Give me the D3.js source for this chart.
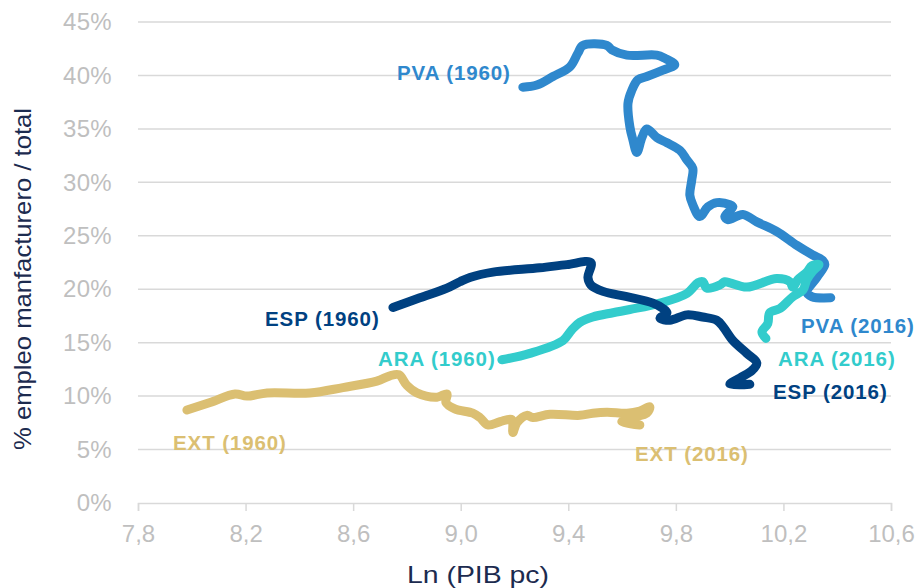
<!DOCTYPE html>
<html>
<head>
<meta charset="utf-8">
<script src="https://cdn.jsdelivr.net/npm/d3@7"></script>
<style>
  body { margin: 0; background: #fff; }
  text { font-family: "Liberation Sans", Arial, sans-serif; }
</style>
</head>
<body>
<script>
// tick labels
var xTicks = [7.8, 8.2, 8.6, 9.0, 9.4, 9.8, 10.2, 10.6];
var yTicks = [0, 5, 10, 15, 20, 25, 30, 35, 40, 45];

// series: Ln(PIB pc) and % manufacturing employment
var pvaX = [9.231, 9.283, 9.343, 9.406, 9.436, 9.454, 9.544, 9.562, 9.618, 9.729, 9.759, 9.796, 9.752, 9.692, 9.659, 9.636, 9.622, 9.629, 9.640, 9.655, 9.674, 9.692, 9.729, 9.767, 9.815, 9.841, 9.863, 9.859, 9.852, 9.863, 9.889, 9.919, 9.952, 10.001, 10.012, 9.982, 9.993, 10.049, 10.101, 10.175, 10.250, 10.309, 10.346, 10.354, 10.324, 10.287, 10.306, 10.376];
var pvaY = [38.9, 39.1, 39.9, 40.8, 42.1, 42.8, 42.8, 42.4, 41.9, 41.9, 41.6, 41.0, 40.5, 39.9, 39.6, 38.6, 37.4, 35.2, 34.0, 32.8, 34.2, 35.0, 34.2, 33.7, 33.0, 32.1, 31.3, 30.2, 28.8, 27.9, 26.8, 27.7, 28.1, 27.9, 27.7, 26.8, 26.5, 27.0, 26.3, 25.4, 24.1, 23.2, 22.7, 22.3, 21.1, 19.7, 19.3, 19.2];

var araX = [9.153, 9.257, 9.380, 9.413, 9.443, 9.491, 9.566, 9.629, 9.741, 9.841, 9.882, 9.900, 9.915, 9.964, 9.982, 10.001, 10.064, 10.175, 10.224, 10.235, 10.254, 10.287, 10.306, 10.332, 10.309, 10.287, 10.272, 10.235, 10.187, 10.149, 10.142, 10.120, 10.135];
var araY = [13.4, 14.0, 15.2, 16.2, 16.9, 17.4, 17.8, 18.1, 18.7, 19.6, 20.6, 20.7, 20.1, 20.4, 20.7, 20.6, 20.2, 21.0, 20.7, 20.2, 20.9, 21.6, 22.2, 22.3, 21.7, 20.9, 19.9, 19.3, 18.2, 17.8, 16.8, 16.0, 15.4];

var espX = [8.748, 8.848, 8.949, 8.997, 9.034, 9.120, 9.294, 9.395, 9.484, 9.473, 9.484, 9.529, 9.618, 9.715, 9.752, 9.767, 9.741, 9.778, 9.841, 9.900, 9.952, 9.975, 10.012, 10.064, 10.101, 10.083, 10.038, 10.001, 10.075];
var espY = [18.3, 19.2, 20.1, 20.7, 21.1, 21.6, 22.0, 22.3, 22.5, 21.1, 20.4, 19.8, 19.3, 18.7, 18.2, 17.8, 17.3, 17.1, 17.6, 17.4, 17.1, 16.5, 15.2, 14.0, 13.1, 12.4, 11.7, 11.1, 11.1];

var extX = [7.982, 8.068, 8.161, 8.205, 8.280, 8.439, 8.562, 8.688, 8.737, 8.770, 8.800, 8.837, 8.912, 8.949, 8.945, 8.978, 9.045, 9.071, 9.101, 9.146, 9.190, 9.194, 9.209, 9.246, 9.268, 9.332, 9.443, 9.491, 9.544, 9.618, 9.666, 9.703, 9.692, 9.640, 9.599, 9.666];
var extY = [8.7, 9.4, 10.2, 10.0, 10.3, 10.3, 10.8, 11.4, 11.9, 12.0, 11.0, 10.3, 9.9, 10.2, 9.4, 8.8, 8.4, 8.0, 7.3, 7.6, 7.8, 6.6, 7.5, 8.2, 8.0, 8.3, 8.2, 8.4, 8.5, 8.4, 8.6, 9.0, 8.4, 8.0, 7.6, 7.3];

var seriesNames = ["PVA", "ARA", "ESP", "EXT"];
var seriesColors = ["#2f88cd", "#33cccc", "#004181", "#dbbf72"];

var svgWidth = 921;
var svgHeight = 588;

var margin = { top: 22, right: 30, bottom: 85, left: 138 };
var width = svgWidth - margin.left - margin.right;
var height = svgHeight - margin.top - margin.bottom;

var svg = d3.select("body")
  .append("svg")
  .attr("width", svgWidth)
  .attr("height", svgHeight);

var chartGroup = svg.append("g")
  .attr("transform", `translate(${margin.left}, ${margin.top})`);

var xScale = d3.scaleLinear().domain([7.8, 10.6]).range([0, width]);
var yScale = d3.scaleLinear().domain([0, 45]).range([height, 0]);

// gridlines
chartGroup.append("g")
  .selectAll("line")
  .data(yTicks.slice(1))
  .enter()
  .append("line")
  .attr("x1", 0)
  .attr("x2", width)
  .attr("y1", d => yScale(d))
  .attr("y2", d => yScale(d))
  .attr("stroke", "#d9d9d9")
  .attr("stroke-width", 1.5);

// x axis
var bottomAxis = d3.axisBottom(xScale)
  .tickValues(xTicks)
  .tickSize(8)
  .tickPadding(14)
  .tickFormat(d => d3.format(".1f")(d).replace(".", ","));

var xAxis = chartGroup.append("g")
  .attr("transform", `translate(0, ${height})`)
  .call(bottomAxis);
xAxis.select(".domain").attr("stroke", "#d9d9d9").attr("stroke-width", 1.5);
xAxis.selectAll(".tick line").attr("stroke", "#d9d9d9").attr("stroke-width", 1.5);
xAxis.selectAll(".tick text")
  .attr("fill", "#bfbfbf")
  .style("font-size", "24px");

// y axis labels
var leftAxis = d3.axisLeft(yScale)
  .tickValues(yTicks)
  .tickSize(0)
  .tickPadding(26)
  .tickFormat(d => d + "%");

var yAxis = chartGroup.append("g").call(leftAxis);
yAxis.select(".domain").remove();
yAxis.selectAll(".tick text")
  .attr("fill", "#bfbfbf")
  .style("font-size", "24px")
  .style("letter-spacing", "0.3px");

// lines
var allX = [pvaX, araX, espX, extX];
var allY = [pvaY, araY, espY, extY];

var line = d3.line()
  .x(d => xScale(d[0]))
  .y(d => yScale(d[1]))
  .curve(d3.curveCatmullRom.alpha(0.5));

seriesNames.forEach(function(name, i) {
  var pts = allX[i].map((x, j) => [x, allY[i][j]]);
  chartGroup.append("path")
    .datum(pts)
    .attr("fill", "none")
    .attr("stroke", seriesColors[i])
    .attr("stroke-width", 9)
    .attr("stroke-linecap", "round")
    .attr("stroke-linejoin", "round")
    .attr("d", line);
});

// series labels
var labels = [
  { text: "PVA (1960)", s: 0, x: 397, y: 80 },
  { text: "PVA (2016)", s: 0, x: 801, y: 333 },
  { text: "ARA (1960)", s: 1, x: 378, y: 366 },
  { text: "ARA (2016)", s: 1, x: 778, y: 366 },
  { text: "ESP (1960)", s: 2, x: 265, y: 326 },
  { text: "ESP (2016)", s: 2, x: 773, y: 399 },
  { text: "EXT (1960)", s: 3, x: 173, y: 450 },
  { text: "EXT (2016)", s: 3, x: 635, y: 461 }
];

svg.append("g")
  .selectAll("text")
  .data(labels)
  .enter()
  .append("text")
  .attr("x", d => d.x)
  .attr("y", d => d.y)
  .attr("fill", d => seriesColors[d.s])
  .style("font-size", "20.5px")
  .style("font-weight", "bold")
  .style("letter-spacing", "0.9px")
  .text(d => d.text);

// axis titles
svg.append("text")
  .attr("x", 478)
  .attr("y", 583)
  .attr("text-anchor", "middle")
  .attr("fill", "#1c2b4f")
  .style("font-size", "24px")
  .attr("textLength", 142)
  .attr("lengthAdjust", "spacingAndGlyphs")
  .text("Ln (PIB pc)");

svg.append("text")
  .attr("transform", "rotate(-90)")
  .attr("x", -279)
  .attr("y", 31)
  .attr("text-anchor", "middle")
  .attr("fill", "#1c2b4f")
  .style("font-size", "24px")
  .attr("textLength", 342)
  .attr("lengthAdjust", "spacingAndGlyphs")
  .text("% empleo manfacturero / total");
</script>
</body>
</html>
